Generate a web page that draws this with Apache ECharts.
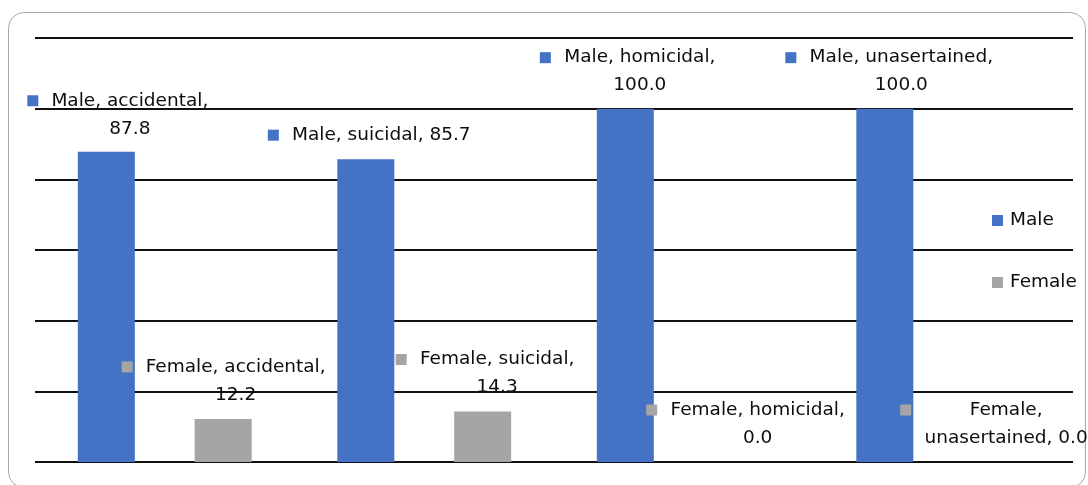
<!DOCTYPE html>
<html><head><meta charset="utf-8">
<script src="https://cdn.jsdelivr.net/npm/echarts@6/dist/echarts.min.js"></script>
<style>
html,body{margin:0;padding:0;background:#fff;}
#wrap{position:relative;width:1088px;height:485px;overflow:hidden;}
#frame{position:absolute;left:8px;top:12px;width:1078px;height:476px;border:1.5px solid #a8a8a8;border-radius:16px;box-sizing:border-box;}
#chart{position:absolute;left:0;top:0;width:1088px;height:485px;}
</style></head>
<body><div id="wrap"><div id="frame"></div><div id="chart"></div></div>
<script>
// ---- data ----
const categories = ['accidental', 'suicidal', 'homicidal', 'unasertained'];
const seriesNames = ['Male', 'Female'];
const maleValues = [87.8, 85.7, 100.0, 100.0];
const femaleValues = [12.2, 14.3, 0.0, 0.0];
const yTicks = [0, 20, 40, 60, 80, 100, 120];

// ---- layout (label wrapping / nudges) ----
const maleFirstLineParts = [2, 3, 2, 2];
const femaleFirstLineParts = [2, 2, 2, 1];
const maleLabelOffsets = [[12, -4], [4, -5], [3, -4], [5, -4]];
const femaleLabelOffsets = [[1, -5], [3, -5], [4, -5], [-7, -5]];

const MALE_COLOR = '#4472C4';
const FEMALE_COLOR = '#A5A5A5';
const FONT = '"DejaVu Sans", sans-serif';
const FS = 18.5;
const TXT = '#0d0d0d';

const ctx = document.createElement('canvas').getContext('2d');
ctx.font = FS + 'px "DejaVu Sans"';
function tw(s) { return Math.ceil(ctx.measureText(s).width); }

function makeLabel(series, cat, val, parts, color, off) {
  const pieces = [series, cat, val.toFixed(1)];
  const l1 = pieces.slice(0, parts).join(', ') + (parts < 3 ? ',' : '');
  const l2 = parts < 3 ? pieces.slice(parts).join(', ') : null;
  const W = Math.max(tw(l1), l2 ? tw(l2) : 0) + 2;
  const rich = {
    m: { width: 11, height: 11, backgroundColor: color, lineHeight: 28, fontSize: 1 },
    g: { width: 12, lineHeight: 28, fontSize: FS },
    s: { width: 23, lineHeight: 28, fontSize: FS },
    t: { fontFamily: FONT, fontSize: FS, color: TXT, lineHeight: 28, width: W, align: 'center' }
  };
  let fmt = '{m| }{g| }{t|' + l1 + '}';
  if (l2) fmt += '\n{s| }{t|' + l2 + '}';
  return { show: true, position: 'top', distance: 5, offset: off, formatter: fmt, rich: rich };
}

const chart = echarts.init(document.getElementById('chart'), null, { renderer: 'canvas' });
chart.setOption({
  animation: false,
  backgroundColor: 'transparent',
  grid: { left: 35, right: 15, top: 38, bottom: 23, containLabel: false },
  legend: {
    data: seriesNames,
    orient: 'vertical',
    left: 992, top: 211, padding: 0,
    itemWidth: 11, itemHeight: 11, itemGap: 43,
    icon: 'rect',
    textStyle: { fontFamily: FONT, fontSize: FS, color: TXT, padding: [0, 0, 0, 2] }
  },
  xAxis: {
    type: 'category', data: categories,
    axisLine: { show: false }, axisTick: { show: false }, axisLabel: { show: false }
  },
  yAxis: {
    type: 'value', min: yTicks[0], max: yTicks[yTicks.length - 1], interval: yTicks[1] - yTicks[0],
    axisLine: { show: false }, axisTick: { show: false }, axisLabel: { show: false },
    splitLine: { show: true, lineStyle: { color: '#111', width: 2 } }
  },
  series: [
    {
      name: seriesNames[0], type: 'bar', barWidth: 57, barGap: '105%',
      itemStyle: { color: MALE_COLOR },
      data: maleValues.map((v, i) => ({ value: v, label: makeLabel(seriesNames[0], categories[i], v, maleFirstLineParts[i], MALE_COLOR, maleLabelOffsets[i]) }))
    },
    {
      name: seriesNames[1], type: 'bar', barWidth: 57, barGap: '105%',
      itemStyle: { color: FEMALE_COLOR },
      data: femaleValues.map((v, i) => ({ value: v, label: makeLabel(seriesNames[1], categories[i], v, femaleFirstLineParts[i], FEMALE_COLOR, femaleLabelOffsets[i]) }))
    }
  ]
});
</script>
</body></html>
